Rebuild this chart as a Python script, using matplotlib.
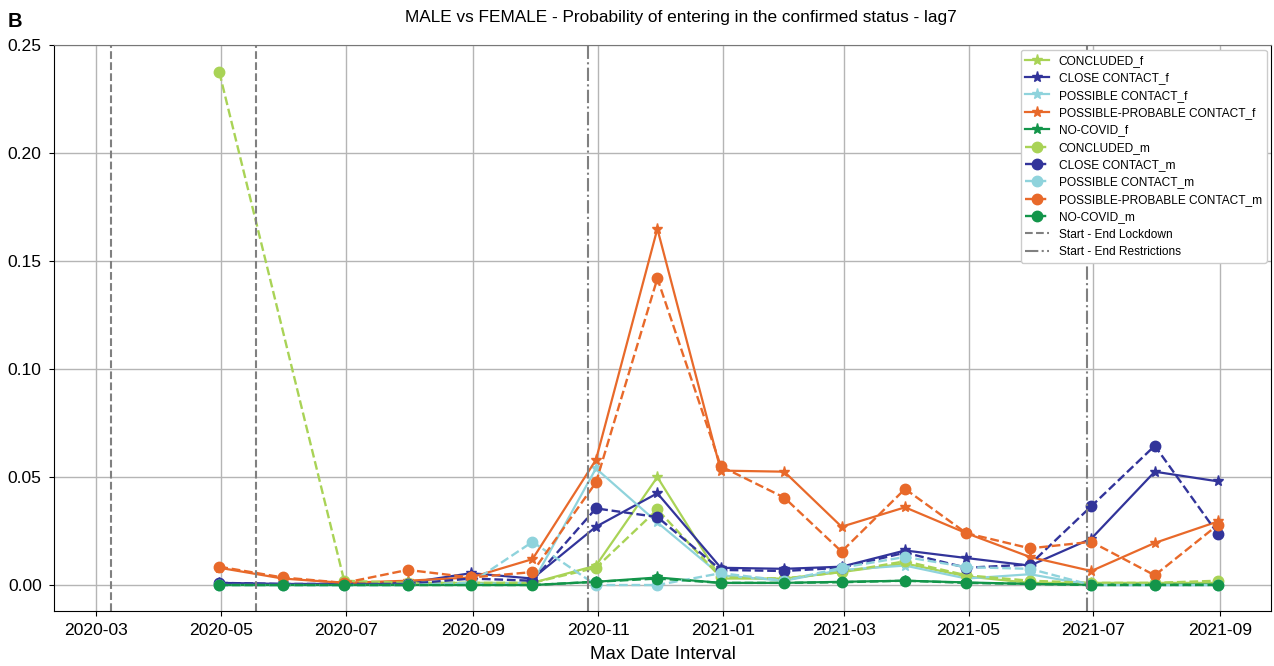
import matplotlib
matplotlib.use("Agg")
import matplotlib.pyplot as plt
import matplotlib.dates as mdates
import numpy as np
import pandas as pd

plt.rcParams['font.family'] = ['Liberation Sans', 'DejaVu Sans']

nan = np.nan
dates = pd.date_range('2020-04-30', '2021-08-31', freq='ME')

# valori (fine mese)
concluded_f = [nan, nan, 0.001, 0.001, 0.001, 0.001, 0.009, 0.050, 0.003, 0.003, 0.006, 0.010, 0.004, 0.001, 0.001, 0.001, 0.001]
close_f = [0.001, 0.0005, 0.0005, 0.001, 0.0055, 0.003, 0.027, 0.0425, 0.008, 0.0075, 0.0085, 0.016, 0.0125, 0.009, 0.0215, 0.0525, 0.048]
possible_f = [0, 0, 0, 0, 0.0005, 0.001, 0.054, 0.029, 0.0045, 0.002, 0.007, 0.009, 0.003, 0.005, 0.0, 0.0, 0.0]
probable_f = [0.008, 0.003, 0.001, 0.002, 0.0035, 0.012, 0.058, 0.165, 0.053, 0.0525, 0.027, 0.036, 0.024, 0.013, 0.0065, 0.0195, 0.0295]
nocovid_f = [0, 0, 0, 0, 0, 0, 0.0015, 0.0035, 0.001, 0.001, 0.0015, 0.002, 0.0012, 0.0005, 0.0002, 0.0002, 0.0002]

concluded_m = [0.2375, nan, 0.002, 0.001, 0.001, 0.001, 0.008, 0.035, 0.0035, 0.003, 0.006, 0.011, 0.0045, 0.002, 0.001, 0.001, 0.002]
close_m = [0.001, 0.0005, 0.0005, 0.0005, 0.003, 0.002, 0.0355, 0.0315, 0.007, 0.0065, 0.008, 0.015, 0.008, 0.0095, 0.0365, 0.0645, 0.0235]
possible_m = [0, 0, 0, 0, 0.001, 0.020, 0.0, 0.0, 0.0055, 0.002, 0.008, 0.013, 0.0083, 0.0075, 0.0, 0.0, 0.0]
probable_m = [0.0085, 0.0035, 0.001, 0.007, 0.0035, 0.006, 0.0475, 0.142, 0.055, 0.0405, 0.0155, 0.0445, 0.024, 0.017, 0.020, 0.0045, 0.028]
nocovid_m = [0, 0, 0, 0, 0, 0, 0.0015, 0.003, 0.001, 0.001, 0.0013, 0.002, 0.001, 0.0005, 0.0, 0.0, 0.0]

names = ["CONCLUDED", "CLOSE CONTACT", "POSSIBLE CONTACT", "POSSIBLE-PROBABLE CONTACT", "NO-COVID"]
colors = ['#a9d356', '#32349a', '#8fd3dc', '#e8692a', '#13954a']
female = [concluded_f, close_f, possible_f, probable_f, nocovid_f]
male = [concluded_m, close_m, possible_m, probable_m, nocovid_m]

lockdown = pd.to_datetime(['2020-03-08', '2020-05-18'])
restrictions = pd.to_datetime(['2020-10-27', '2021-06-28'])

fig, ax = plt.subplots(figsize=(12.74, 6.66), dpi=100)
fig.subplots_adjust(left=0.042, right=0.998, bottom=0.083, top=0.932)

for name, c, vals in zip(names, colors, female):
    s = pd.Series(vals, index=dates).dropna()
    ax.plot(s.index, s.values, '-', marker='*', color=c, lw=1.6, ms=8, label=name + "_f")
for name, c, vals in zip(names, colors, male):
    s = pd.Series(vals, index=dates).dropna()
    ax.plot(s.index, s.values, '--', marker='o', color=c, lw=1.7, ms=7.5, label=name + "_m")

for i, d in enumerate(lockdown):
    ax.axvline(d, color='gray', ls='--', lw=1.5, label="Start - End Lockdown" if i == 0 else None)
for i, d in enumerate(restrictions):
    ax.axvline(d, color='gray', ls='-.', lw=1.5, label="Start - End Restrictions" if i == 0 else None)

ax.set_xlim(pd.Timestamp('2020-02-09'), pd.Timestamp('2021-09-26'))
ax.set_ylim(-0.0119, 0.25)
ax.xaxis.set_major_locator(mdates.MonthLocator(bymonth=[1, 3, 5, 7, 9, 11]))
ax.xaxis.set_major_formatter(mdates.DateFormatter('%Y-%m'))
ax.grid(True, color='#b5b5b5', lw=1)
ax.set_axisbelow(True)
ax.tick_params(labelsize=12.6, pad=5)
ax.set_xlabel("Max Date Interval", fontsize=13.4, labelpad=6)
ax.set_title("MALE vs FEMALE - Probability of entering in the confirmed status - lag7",
             fontsize=12.4, pad=17, x=0.515)
ax.spines['top'].set_color('#777777')
ax.legend(loc='upper right', fontsize=8.6, framealpha=1, borderaxespad=0.4, labelspacing=0.45)

fig.text(0.006, 0.968, "B", fontsize=14.5, fontweight='bold', va='center')

plt.savefig("out.png", dpi=100)
